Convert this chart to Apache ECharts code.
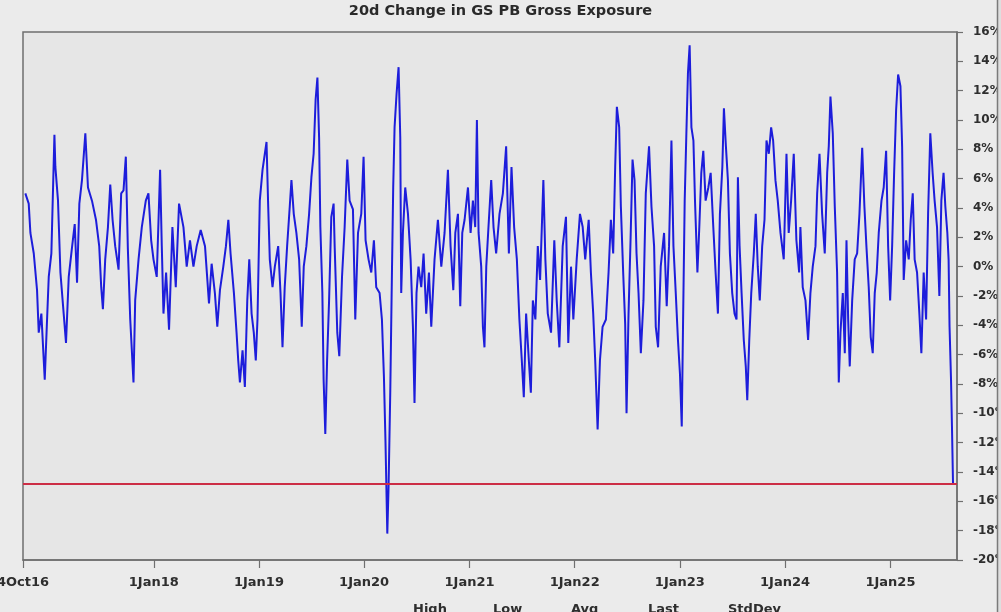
<!DOCTYPE html>
<html>
<head>
<meta charset="utf-8">
<script src="https://cdn.jsdelivr.net/npm/echarts@6/dist/echarts.min.js"></script>
<style>
html,body{margin:0;padding:0;background:#ebebeb;}
#chart{width:1001px;height:612px;}
</style>
</head>
<body>
<div id="chart"></div>
<script>
// Decimal-year dates
const dates = [
2016.779,2016.811,2016.827,2016.859,2016.890,2016.906,2016.931,2016.963,2016.985,2017.001,
2017.026,2017.055,2017.064,2017.089,2017.112,2017.143,2017.165,2017.191,2017.222,2017.248,
2017.270,2017.292,2017.317,2017.349,2017.374,2017.412,2017.450,2017.481,2017.500,2017.516,
2017.538,2017.564,2017.586,2017.608,2017.633,2017.665,2017.690,2017.712,2017.734,2017.753,
2017.776,2017.807,2017.823,2017.855,2017.886,2017.924,2017.949,2017.975,2017.997,2018.028,
2018.060,2018.076,2018.092,2018.117,2018.145,2018.177,2018.209,2018.240,
2018.282,2018.313,2018.344,2018.377,2018.408,2018.446,2018.487,2018.525,2018.550,2018.581,
2018.604,2018.629,2018.661,2018.686,2018.709,2018.730,2018.762,2018.787,2018.803,2018.819,
2018.844,2018.866,2018.889,2018.908,2018.930,2018.951,2018.970,2018.986,2019.008,2019.034,
2019.072,2019.088,2019.103,2019.129,2019.151,2019.183,2019.205,2019.224,2019.245,2019.268,
2019.293,2019.309,2019.331,2019.356,2019.382,2019.407,2019.426,2019.451,2019.477,2019.499,
2019.520,2019.539,2019.556,2019.572,2019.584,2019.603,2019.615,2019.631,2019.648,2019.667,
2019.688,2019.710,
2019.720,2019.745,2019.764,2019.790,2019.815,2019.840,2019.862,2019.894,2019.916,2019.942,
2019.973,2019.995,2020.014,2020.042,2020.068,2020.093,2020.115,2020.147,2020.169,2020.188,
2020.203,2020.220,2020.232,2020.248,2020.264,2020.276,2020.289,2020.308,2020.327,2020.343,
2020.352,2020.368,2020.390,2020.416,2020.441,2020.463,2020.478,2020.497,2020.516,2020.542,
2020.564,2020.589,2020.615,2020.637,2020.668,2020.700,2020.732,2020.763,2020.795,2020.820,
2020.846,2020.865,2020.890,2020.912,2020.931,2020.953,2020.985,2021.010,2021.032,2021.054,
2021.070,2021.086,2021.111,2021.127,2021.142,2021.159,2021.180,
2021.206,2021.228,2021.253,2021.285,2021.317,2021.348,2021.374,2021.399,2021.424,2021.450,
2021.474,2021.497,2021.516,2021.538,2021.564,2021.583,2021.602,2021.626,2021.649,2021.671,
2021.702,2021.721,2021.744,2021.775,2021.806,2021.829,2021.854,2021.886,2021.917,2021.939,
2021.965,2021.987,2022.019,2022.050,2022.076,2022.100,2022.133,2022.154,2022.176,2022.195,
2022.218,2022.240,2022.265,2022.297,2022.322,2022.344,2022.366,2022.385,2022.401,2022.423,
2022.439,2022.461,2022.480,2022.493,2022.512,2022.531,2022.550,2022.569,2022.588,2022.607,
2022.629,
2022.654,2022.676,2022.707,2022.730,2022.755,2022.771,2022.793,2022.818,2022.850,2022.875,
2022.897,2022.920,2022.939,2022.961,2022.982,2023.001,2023.018,2023.030,2023.046,2023.062,
2023.077,2023.093,2023.110,2023.129,2023.144,2023.167,2023.185,2023.204,2023.223,2023.245,
2023.271,2023.293,2023.318,2023.340,2023.362,2023.381,2023.404,2023.419,2023.438,2023.457,
2023.476,2023.498,2023.520,2023.539,2023.552,2023.568,2023.587,2023.608,2023.627,2023.641,
2023.660,2023.679,2023.703,2023.722,2023.741,2023.760,2023.783,2023.805,2023.824,2023.846,
2023.868,2023.887,2023.909,2023.931,2023.957,2023.988,2024.014,2024.035,2024.058,2024.083,
2024.108,2024.134,
2024.146,2024.168,2024.194,2024.219,2024.241,2024.263,2024.289,2024.305,2024.327,2024.352,
2024.377,2024.400,2024.415,2024.431,2024.453,2024.472,2024.494,2024.510,2024.526,2024.548,
2024.567,2024.583,2024.599,2024.614,2024.637,2024.661,2024.684,2024.706,2024.732,2024.753,
2024.772,2024.794,2024.813,2024.832,2024.851,2024.870,2024.889,2024.915,2024.936,2024.959,
2024.978,2024.997,2025.016,2025.035,2025.054,2025.073,2025.095,2025.111,2025.126,2025.149,
2025.174,2025.193,2025.212,2025.230,2025.253,2025.275,2025.294,2025.316,2025.339,2025.358,
2025.379,2025.401,2025.420,2025.443,2025.465,2025.484,2025.505,2025.522,2025.541,2025.553,
2025.562,2025.576,2025.585,2025.595
];
// 20d change in GS PB gross exposure, %
const change = [
5.0,4.3,2.3,0.9,-1.6,-4.5,-3.2,-7.7,-3.6,-0.7,
0.9,9.0,6.8,4.5,-0.4,-3.2,-5.2,-0.7,1.3,2.9,
-1.1,4.3,5.9,9.1,5.4,4.5,3.2,1.4,-1.4,-2.9,
0.5,2.7,5.6,3.2,1.4,-0.2,5.0,5.2,7.5,1.3,
-3.6,-7.9,-2.3,0.5,2.7,4.5,5.0,1.8,0.5,-0.7,
6.6,1.4,-3.2,-0.4,-4.3,2.7,-1.4,4.3,
2.7,0.0,1.8,0.0,1.4,2.5,1.4,-2.5,0.2,-1.8,
-4.1,-1.6,0.0,1.4,3.2,0.9,-1.8,-4.5,-6.4,-7.9,
-5.7,-8.2,-2.3,0.5,-3.2,-4.5,-6.4,-3.6,4.5,6.6,
8.5,4.1,0.5,-1.4,0.0,1.4,-1.8,-5.5,-1.4,1.4,
4.1,5.9,3.6,2.3,0.5,-4.1,0.0,1.4,3.6,6.1,
7.7,11.4,12.9,8.8,2.7,-1.8,-7.7,-11.4,-6.4,-2.3,
3.4,4.3,
1.4,-4.5,-6.1,-0.7,2.7,7.3,4.5,3.9,-3.6,2.3,
3.6,7.5,1.8,0.5,-0.4,1.8,-1.4,-1.8,-3.6,-7.5,
-12.0,-18.2,-15.0,-8.6,-0.4,5.4,9.5,11.8,13.6,8.8,
-1.8,2.3,5.4,3.6,0.5,-4.1,-9.3,-1.8,0.0,-1.4,
0.9,-3.2,-0.4,-4.1,0.5,3.2,0.0,2.3,6.6,1.4,
-1.6,2.3,3.6,-2.7,2.3,3.2,5.4,2.3,4.5,2.7,
10.0,2.3,0.0,-4.1,-5.5,0.0,2.7,
5.9,2.7,0.9,3.6,5.0,8.2,0.9,6.8,2.7,0.5,
-3.6,-6.4,-8.9,-3.2,-6.4,-8.6,-2.3,-3.6,1.4,-0.9,
5.9,0.5,-3.2,-4.5,1.8,-2.3,-5.5,1.4,3.4,-5.2,
0.0,-3.6,0.5,3.6,2.7,0.5,3.2,-0.4,-3.2,-6.4,
-11.1,-6.4,-4.1,-3.6,-0.4,3.2,0.9,6.8,10.9,9.5,
4.1,-0.4,-3.9,-10.0,-3.2,1.8,7.3,5.9,0.9,-1.8,
-5.9,
-2.3,5.0,8.2,4.1,1.4,-4.1,-5.5,0.0,2.3,-2.7,
1.4,8.6,1.4,-1.8,-5.0,-7.3,-10.9,-4.1,4.5,9.1,
13.2,15.1,9.5,8.6,4.5,-0.4,2.7,6.4,7.9,4.5,
5.4,6.4,2.7,-0.4,-3.2,3.6,6.8,10.8,8.2,5.9,
0.9,-1.8,-3.2,-3.6,6.1,1.4,-1.8,-5.0,-6.8,-9.1,
-5.0,-1.8,0.9,3.6,0.0,-2.3,1.4,3.2,8.6,7.7,
9.5,8.6,5.9,4.5,2.3,0.5,7.7,2.3,4.5,7.7,
1.8,-0.4,
2.7,-1.4,-2.3,-5.0,-1.8,0.0,1.4,5.0,7.7,3.6,
0.9,6.4,8.2,11.6,9.1,4.1,-0.4,-7.9,-4.5,-1.8,
-5.9,1.8,-3.6,-6.8,-2.3,0.5,0.9,3.6,8.1,4.1,
1.4,-1.4,-4.8,-5.9,-1.8,-0.4,2.3,4.5,5.4,7.9,
1.4,-2.3,1.4,6.4,10.7,13.1,12.3,8.2,-0.9,1.8,
0.5,3.2,5.0,0.5,-0.4,-3.2,-5.9,-0.4,-3.6,3.6,
9.1,6.4,4.5,2.7,-2.0,4.5,6.4,4.1,2.3,0.5,
-4.1,-7.7,-10.9,-14.8
];
const refLevel = -14.8;
const xTickDates = ['2016-10-04','2018-01-01','2019-01-01','2020-01-01','2021-01-01','2022-01-01','2023-01-01','2024-01-01','2025-01-01'];
const yTicks = [-20,-18,-16,-14,-12,-10,-8,-6,-4,-2,0,2,4,6,8,10,12,14,16];
const footerLabels = ['High','Low','Avg','Last','StdDev'];
const titleText = '20d Change in GS PB Gross Exposure';

function yearToTs(d){
  const y = Math.floor(d);
  const s = Date.UTC(y,0,1), e = Date.UTC(y+1,0,1);
  return s + (d - y) * (e - s);
}
function isoTs(s){ const p = s.split('-').map(Number); return Date.UTC(p[0],p[1]-1,p[2]); }
const MONTHS = ['Jan','Feb','Mar','Apr','May','Jun','Jul','Aug','Sep','Oct','Nov','Dec'];
const seriesData = dates.map((d,i)=>[yearToTs(d), change[i]]);
const tickTs = xTickDates.map(isoTs);

const chart = echarts.init(document.getElementById('chart'), null, {renderer:'canvas'});
const font = '"DejaVu Sans", Verdana, sans-serif';
const footerLeft = [413, 493, 571, 648, 728];
chart.setOption({
  backgroundColor: '#ebebeb',
  animation: false,
  title: {
    text: titleText, left: 'center', top: -1,
    textStyle: {fontFamily: font, fontSize: 14.5, fontWeight: 'bold', color: '#2a2a2a'}
  },
  grid: {
    left: 23, right: 44, top: 32, bottom: 52,
    outerBoundsMode: 'none', containLabel: false,
    show: true, backgroundColor: '#e6e6e6', borderColor: '#6f6f6f', borderWidth: 1.5
  },
  xAxis: {
    type: 'value',
    min: isoTs('2016-10-04'),
    max: isoTs('2025-08-20'),
    splitLine: {show: false},
    axisLine: {show: true, onZero: false, lineStyle: {color: '#6f6f6f', width: 1.5}},
    axisTick: {show: true, customValues: tickTs, length: 8, inside: false, lineStyle: {color: '#6f6f6f', width: 1.2}},
    axisLabel: {
      customValues: tickTs, margin: 16, hideOverlap: false, showMinLabel: true,
      fontFamily: font, fontSize: 13, fontWeight: 'bold', color: '#2e2e2e',
      formatter: function(v){
        const d = new Date(v);
        return d.getUTCDate() + MONTHS[d.getUTCMonth()] + String(d.getUTCFullYear()).slice(2);
      }
    }
  },
  yAxis: {
    type: 'value', position: 'right',
    min: yTicks[0], max: yTicks[yTicks.length-1], interval: 2,
    splitLine: {show: false},
    axisLine: {show: true, lineStyle: {color: '#6f6f6f', width: 1.5}},
    axisTick: {show: true, length: 6, lineStyle: {color: '#6f6f6f', width: 1.2}},
    axisLabel: {
      margin: 16, fontFamily: font, fontSize: 12, fontWeight: 'bold', color: '#2e2e2e',
      formatter: '{value}%'
    }
  },
  series: [{
    type: 'line',
    data: seriesData,
    showSymbol: false,
    symbol: 'none',
    lineStyle: {color: '#1d1ddb', width: 2},
    z: 3,
    markLine: {
      silent: true, symbol: 'none',
      label: {show: false},
      lineStyle: {color: '#cc2d45', width: 2, type: 'solid'},
      data: [{yAxis: refLevel}],
      z: 4
    }
  }],
  graphic: footerLabels.map((t,i)=>({
    type: 'text', left: footerLeft[i], top: 603,
    style: {text: t, font: 'bold 13px ' + font, fill: '#2e2e2e'}
  })).concat([{
    type: 'rect', shape: {x: 997, y: 0, width: 4, height: 612}, z: 100,
    style: {fill: '#dedede'}
  }, {
    type: 'line', shape: {x1: 997.5, y1: 0, x2: 997.5, y2: 612}, z: 101,
    style: {stroke: '#7a7a7a', lineWidth: 1.5}
  }])
});
</script>
</body>
</html>
